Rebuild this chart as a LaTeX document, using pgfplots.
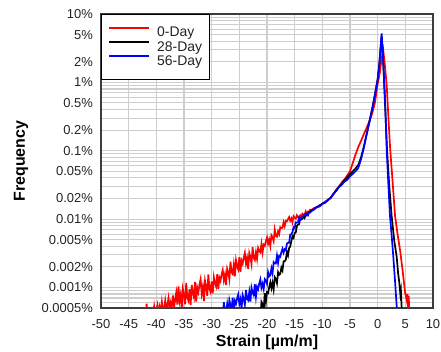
\documentclass[border=0pt]{standalone}
\usepackage{pgfplots}
\pgfplotsset{compat=1.18}
\usepackage{fontspec}
\setmainfont{Liberation Sans}
\definecolor{gridgray}{RGB}{206,206,206}
\definecolor{framegray}{RGB}{60,60,60}
\definecolor{txtgray}{RGB}{35,35,35}
\begin{document}
\begin{tikzpicture}
\begin{axis}[name=ax, scale only axis, width=332bp, height=294bp,
 ymode=log, xmin=-50, xmax=10, ymin=0.0005, ymax=10,
 xtick={-50,-45,...,10},
 xticklabels={-50,-45,-40,-35,-30,-25,-20,-15,-10,-5,0,5,10},
 ytick={0.0005,0.001,0.002,0.005,0.01,0.02,0.05,0.1,0.2,0.5,1,2,5,10},
 yticklabels={0.0005\%,0.001\%,0.002\%,0.005\%,0.01\%,0.02\%,0.05\%,0.1\%,0.2\%,0.5\%,1\%,2\%,5\%,10\%},
 minor ytick={0.0006,0.0007,0.0008,0.0009,0.003,0.004,0.006,0.007,0.008,0.009,0.03,0.04,0.06,0.07,0.08,0.09,0.3,0.4,0.6,0.7,0.8,0.9,3,4,6,7,8,9},
 grid=both,
 major grid style={gridgray, line width=1.1bp},
 minor grid style={gridgray, line width=1.1bp},
 major tick length=0pt, minor tick length=0pt,
 axis line style={framegray, line width=1.4bp},
 tick label style={font=\fontsize{13}{15}\selectfont, text=txtgray},
 xticklabel style={anchor=north, inner sep=0pt, yshift=-11bp},
 yticklabel style={anchor=east, inner sep=0pt, xshift=-8bp},
 xlabel={Strain [µm/m]}, ylabel={Frequency},
 label style={font=\bfseries\fontsize{16}{18}\selectfont, text=black},
 xlabel style={at={(axis description cs:0.5,-0.1156)}, anchor=center},
 ylabel style={at={(axis description cs:-0.241,0.5)}, anchor=center},
 legend style={at={(0,1)}, anchor=north west, draw=black, line width=1bp, fill=white,
   font=\fontsize{14}{16}\selectfont, text=txtgray,
   row sep=2.6bp, column sep=7bp,
   nodes={inner sep=0pt}, inner xsep=7bp, inner ysep=12.5bp},
 legend cell align=left,
 legend image code/.code={\draw[#1, line width=1.7bp] (0bp,5bp) -- (40bp,5bp);},
]
\addplot[color=red, draw=red, line width=1.7bp] table {
x y
-42.0 3e-4
-41.75 5.8e-4
-41.6 3e-4
-41.0 3.5e-4
-40.6 4.2e-4
-40.4 5.3e-4
-40.2 3.8e-4
-40.0 4.6e-4
-39.8 5.5e-4
-39.6 4.0e-4
-39.4 5.2e-4
-39.2 4.4e-4
-39.0 6.1e-4
-38.8 4.3e-4
-38.6 5.0e-4
-38.4 6.4e-4
-38.2 4.6e-4
-38.0 5.6e-4
-37.8 7.0e-4
-37.6 4.8e-4
-37.4 6.0e-4
-37.2 5.2e-4
-37.0 7.6e-4
-36.8 5.0e-4
-36.6 6.6e-4
-36.4 8.4e-4
-36.2 5.6e-4
-36.0 1.03e-3
-35.8 6.32e-4
-35.6 7.87e-4
-35.4 4.84e-4
-35.2 9.5e-4
-35.0 7.82e-4
-34.8 5.68e-4
-34.6 1.16e-3
-34.4 7.14e-4
-34.2 6.38e-4
-34.0 9.38e-4
-33.8 5.55e-4
-33.6 1.09e-3
-33.4 8.28e-4
-33.2 7.11e-4
-33.0 1.19e-3
-32.8 6.19e-4
-32.6 9.9e-4
-32.4 8.51e-4
-32.2 1.11e-3
-32.0 1.32e-3
-31.8 8.18e-4
-31.6 1.02e-3
-31.4 6.32e-4
-31.2 1.25e-3
-31.0 1.03e-3
-30.8 7.52e-4
-30.6 1.55e-3
-30.4 9.55e-4
-30.2 8.57e-4
-30.0 1.22e-3
-29.8 8.2e-4
-29.6 1.41e-3
-29.4 1.15e-3
-29.2 1.03e-3
-29.0 1.56e-3
-28.8 9.5e-4
-28.6 1.39e-3
-28.4 1.25e-3
-28.2 1.55e-3
-28.0 1.80e-3
-27.8 1.27e-3
-27.6 1.54e-3
-27.4 1.08e-3
-27.2 1.88e-3
-27.0 1.66e-3
-26.8 1.32e-3
-26.6 2.37e-3
-26.4 1.67e-3
-26.2 1.57e-3
-26.0 2.17e-3
-25.8 1.46e-3
-25.6 2.5e-3
-25.4 2.04e-3
-25.2 1.84e-3
-25.0 2.77e-3
-24.8 1.69e-3
-24.6 2.47e-3
-24.4 2.22e-3
-24.2 2.75e-3
-24.0 3.21e-3
-23.8 2.23e-3
-23.6 2.68e-3
-23.4 1.86e-3
-23.2 3.19e-3
-23.0 2.78e-3
-22.8 2.2e-3
-22.6 3.89e-3
-22.4 2.7e-3
-22.2 2.51e-3
-22.0 3.28e-3
-21.8 2.61e-3
-21.6 3.78e-3
-21.4 3.4e-3
-21.2 3.25e-3
-21.0 4.34e-3
-20.8 3.24e-3
-20.6 4.23e-3
-20.4 4.05e-3
-20.2 4.76e-3
-20.0 5.38e-3
-19.8 4.35e-3
-19.6 4.99e-3
-19.4 4.03e-3
-19.2 5.81e-3
-19.0 5.42e-3
-18.8 4.75e-3
-18.6 7.0e-3
-18.4 5.65e-3
-18.2 5.5e-3
-18.0 6.61e-3
-17.8 6.0e-3
-17.6 7.59e-3
-17.4 7.38e-3
-17.2 7.43e-3
-17.0 8.97e-3
-16.8 7.87e-3
-16.6 9.42e-3
-16.4 9.29e-3
-16.2 1.0e-2
-16.0 1.07e-2
-15.8 9.44e-3
-15.6 1.02e-2
-15.4 8.97e-3
-15.2 1.10e-2
-15.0 1.05e-2
-14.8 1.01e-2
-14.6 1.14e-2
-14.4 1.06e-2
-14.2 1.05e-2
-14.0 1.13e-2
-13.8 1.05e-2
-13.6 1.2e-2
-13.4 1.17e-2
-13.2 1.16e-2
-13.0 1.29e-2
-12.8 1.17e-2
-12.6 1.29e-2
-12.4 1.29e-2
-12.2 1.37e-2
-12.0 1.35e-2
-11.5 1.45e-2
-11.0 1.48e-2
-10.5 1.6e-2
-10.0 1.66e-2
-9.5 1.8e-2
-9.0 1.88e-2
-8.5 2.07e-2
-8.0 2.28e-2
-7.5 2.68e-2
-7.0 2.97e-2
-6.5 3.43e-2
-6.0 3.77e-2
-5.5 4.33e-2
-5.0 5.0e-2
-4.5 6.6e-2
-4.0 8.8e-2
-3.5 0.113
-3.0 0.14
-2.5 0.175
-2.0 0.215
-1.5 0.27
-1.0 0.35
-0.5 0.5
0.0 0.95
0.4 1.4
0.7 2.2
1.0 3.0
1.3 1.8
1.65 0.87
2.0 0.25
2.25 0.11
2.7 0.035
3.15 0.011
3.6 0.006
4.05 0.0035
4.5 0.0018
4.95 0.00085
5.25 0.00065
5.4 0.0008
5.5 0.0005
5.6 0.00075
5.75 0.0004
};
\addlegendentry{0-Day}
\addplot[color=black, draw=black, line width=1.7bp] table {
x y
-21.4 3.89e-4
-21.2 3.51e-4
-21.0 6.17e-4
-20.8 5.75e-4
-20.6 4.6e-4
-20.4 8.24e-4
-20.2 6.14e-4
-20.0 8.51e-4
-19.8 8.28e-4
-19.6 1.01e-3
-19.4 1.19e-3
-19.2 9.73e-4
-19.0 1.17e-3
-18.8 9.33e-4
-18.6 1.41e-3
-18.4 1.32e-3
-18.2 1.15e-3
-18.0 1.67e-3
-17.8 1.53e-3
-17.6 1.58e-3
-17.4 1.95e-3
-17.2 1.77e-3
-17.0 2.41e-3
-16.8 2.42e-3
-16.6 2.54e-3
-16.4 3.31e-3
-16.2 2.94e-3
-16.0 3.78e-3
-15.8 3.96e-3
-15.6 4.76e-3
-15.4 5.6e-3
-15.2 5.3e-3
-15.0 6.25e-3
-14.8 6.37e-3
-14.6 7.87e-3
-14.4 8.3e-3
-14.2 8.45e-3
-14.0 1.02e-2
-13.8 9.86e-3
-13.6 1.01e-2
-13.4 1.11e-2
-13.2 1.04e-2
-13.0 1.19e-2
-12.8 1.16e-2
-12.6 1.2e-2
-12.4 1.26e-2
-12.2 1.25e-2
-12.0 1.33e-2
-11.5 1.4e-2
-11.0 1.51e-2
-10.5 1.55e-2
-10.0 1.69e-2
-9.5 1.75e-2
-9.0 1.92e-2
-8.5 2.04e-2
-8.0 2.35e-2
-7.5 2.62e-2
-7.0 2.99e-2
-6.5 3.27e-2
-6.0 3.74e-2
-5.5 4.06e-2
-5.0 4.55e-2
-4.5 5.0e-2
-4.0 5.5e-2
-3.5 6.2e-2
-3.0 8.0e-2
-2.5 0.115
-2.0 0.175
-1.5 0.265
-1.0 0.41
-0.5 0.66
0.0 1.12
0.3 1.9
0.5 3.0
0.7 4.8
1.0 2.0
1.3 0.55
1.7 0.1
2.1 0.03
2.53 0.011
3.0 0.0048
3.44 0.0028
3.7 0.0016
3.9 0.0012
4.1 0.0008
4.2 0.0009
4.34 0.0005
4.45 0.0004
};
\addlegendentry{28-Day}
\addplot[color=blue, draw=blue, line width=1.7bp] table {
x y
-28.0 3.68e-4
-27.8 6.08e-4
-27.6 4.51e-4
-27.4 4.29e-4
-27.2 5.68e-4
-27.0 4.09e-4
-26.8 6.49e-4
-26.6 5.45e-4
-26.4 4.97e-4
-26.2 7.05e-4
-26.0 4.61e-4
-25.8 6.35e-4
-25.6 5.78e-4
-25.4 6.93e-4
-25.2 7.87e-4
-25.0 5.74e-4
-24.8 6.7e-4
-24.6 4.89e-4
-24.4 7.73e-4
-24.2 6.84e-4
-24.0 5.57e-4
-23.8 9.2e-4
-23.6 6.82e-4
-23.4 6.49e-4
-23.2 8.59e-4
-23.0 6.19e-4
-22.8 9.9e-4
-22.6 8.39e-4
-22.4 7.73e-4
-22.2 1.11e-3
-22.0 7.31e-4
-21.8 1.02e-3
-21.6 9.38e-4
-21.4 1.14e-3
-21.2 1.31e-3
-21.0 9.9e-4
-20.8 1.13e-3
-20.6 9.46e-4
-20.4 1.32e-3
-20.2 1.26e-3
-20.0 1.13e-3
-19.8 1.67e-3
-19.6 1.45e-3
-19.4 1.49e-3
-19.2 1.90e-3
-19.0 1.61e-3
-18.8 2.34e-3
-18.6 2.23e-3
-18.4 2.24e-3
-18.2 2.92e-3
-18.0 2.27e-3
-17.8 2.9e-3
-17.6 2.81e-3
-17.4 3.28e-3
-17.2 3.68e-3
-17.0 3.22e-3
-16.8 3.63e-3
-16.6 3.5e-3
-16.4 4.37e-3
-16.2 4.49e-3
-16.0 4.49e-3
-15.8 5.92e-3
-15.6 5.97e-3
-15.4 6.43e-3
-15.2 7.59e-3
-15.0 7.31e-3
-14.8 8.95e-3
-14.6 8.87e-3
-14.4 8.99e-3
-14.2 1.05e-2
-14.0 9.86e-3
-13.8 1.07e-2
-13.6 1.08e-2
-13.4 1.12e-2
-13.2 1.16e-2
-13.0 1.11e-2
-12.8 1.16e-2
-12.6 1.13e-2
-12.4 1.25e-2
-12.2 1.26e-2
-12.0 1.30e-2
-11.5 1.38e-2
-11.0 1.49e-2
-10.5 1.53e-2
-10.0 1.67e-2
-9.5 1.73e-2
-9.0 1.9e-2
-8.5 2.02e-2
-8.0 2.33e-2
-7.5 2.57e-2
-7.0 2.93e-2
-6.5 3.17e-2
-6.0 3.53e-2
-5.5 3.76e-2
-5.0 4.22e-2
-4.5 4.58e-2
-4.0 5.0e-2
-3.5 5.6e-2
-3.0 7.5e-2
-2.5 0.11
-2.0 0.17
-1.5 0.26
-1.0 0.4
-0.5 0.65
0.0 1.1
0.3 1.8
0.5 3.0
0.73 5.2
1.0 2.0
1.33 0.6
1.64 0.1
1.95 0.03
2.23 0.011
2.55 0.0055
2.83 0.0028
3.15 0.0012
3.44 0.00053
3.6 0.0004
};
\addlegendentry{56-Day}
\end{axis}
\pgfresetboundingbox
\path ([shift={(-101bp,-44bp)}]ax.south west) rectangle ([shift={(8bp,14bp)}]ax.north east);
\end{tikzpicture}
\end{document}
